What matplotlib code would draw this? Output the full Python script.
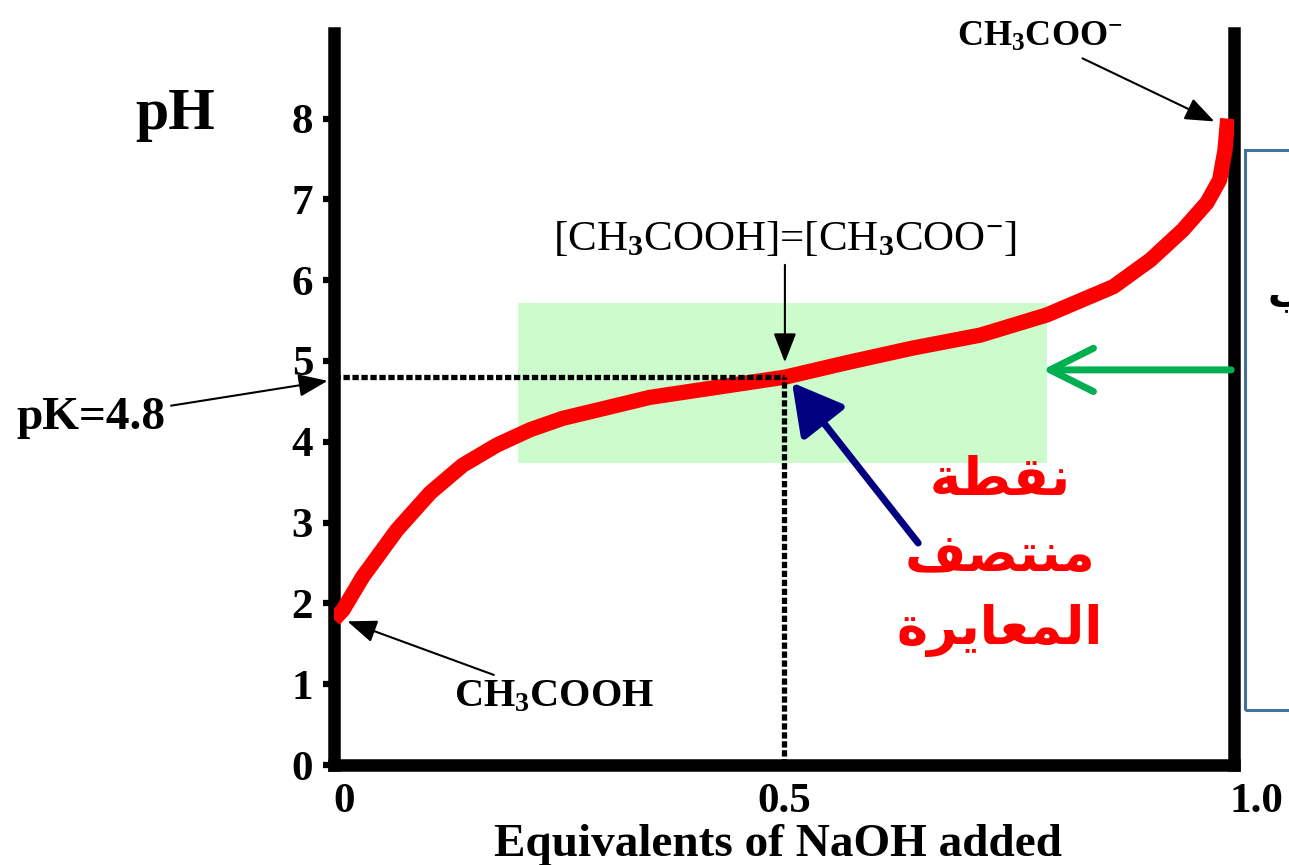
import matplotlib
matplotlib.use("Agg")
import matplotlib.pyplot as plt
from matplotlib.patches import Rectangle

plt.rcParams['font.family'] = ['Liberation Serif', 'DejaVu Sans']
plt.rcParams['font.weight'] = 'bold'
plt.rcParams['mathtext.fontset'] = 'custom'
plt.rcParams['mathtext.rm'] = 'Liberation Serif:bold'
plt.rcParams['mathtext.it'] = 'Liberation Serif:bold'
plt.rcParams['mathtext.bf'] = 'Liberation Serif:bold'

# titration curve
equiv = [0, 0.01, 0.032, 0.07, 0.107, 0.143, 0.181, 0.218, 0.254, 0.284, 0.351,
         0.429, 0.501, 0.57, 0.643, 0.718, 0.792, 0.866, 0.907, 0.943, 0.97,
         0.984, 0.99, 0.993]
ph = [1.8, 1.92, 2.33, 2.91, 3.37, 3.71, 3.96, 4.15, 4.29, 4.37, 4.55,
      4.68, 4.80, 4.98, 5.16, 5.32, 5.57, 5.92, 6.25, 6.62, 6.96,
      7.24, 7.61, 8.0]

ytick_vals = [0, 1, 2, 3, 4, 5, 6, 7, 8]
xtick_vals = [0, 0.5, 1.0]
xtick_labels = ['0', '0.5', '1.0']
pk = 4.8
half_point = 0.5
buffer_x = [0.204, 0.792]
buffer_y = [3.74, 5.72]

# arabic: "نقطة منتصف المعايرة" written in presentation forms, visual order
arabic_lines = ['\uFE94\uFEC4\uFED8\uFEE7',
                '\uFED2\uFEBC\uFE98\uFEE8\uFEE3',
                '\uFE93\uFEAE\uFEF3\uFE8E\uFECC\uFEE4\uFEDF\uFE8D']

fig = plt.figure(figsize=(12.89, 8.65), dpi=100)
ax = fig.add_axes([334/1289, 100/865, 900/1289, 732/865])
ax.set_xlim(0, 1)
ax.set_ylim(0, 732/80.8)

for s in ['left', 'right', 'bottom']:
    ax.spines[s].set_linewidth(9)
ax.spines['top'].set_visible(False)

ax.set_yticks(ytick_vals)
ax.set_yticklabels([str(v) for v in ytick_vals], fontsize=31, fontweight='bold')
ax.tick_params(axis='y', length=8, width=4.5, pad=7)
ax.set_xticks([])
for xv, lab, off in zip(xtick_vals, xtick_labels, [10, 0, 22]):
    ax.annotate(lab, (xv, 0), xytext=(off, -18), textcoords='offset pixels',
                ha='center', va='top', fontsize=31, fontweight='bold',
                annotation_clip=False)
ax.text(0.493, -0.125, 'Equivalents of NaOH added', transform=ax.transAxes,
        ha='center', va='baseline', fontsize=34, fontweight='bold')
ax.text(-0.177, 8.04, 'pH', ha='center', va='center', fontsize=43,
        fontweight='bold', clip_on=False)

# buffer region
ax.add_patch(Rectangle((buffer_x[0], buffer_y[0]), buffer_x[1] - buffer_x[0],
                       buffer_y[1] - buffer_y[0], color='#ccfccc', lw=0, zorder=1))

ax.plot(equiv, ph, color='red', lw=11, solid_capstyle='butt',
        solid_joinstyle='round', zorder=3)

dot = dict(color='black', lw=3.8, ls=(0, (1.2, 0.5)), dash_capstyle='butt', zorder=4)
ax.plot([0, half_point], [pk, pk], **dot)
ax.plot([half_point, half_point], [0, pk], **dot)

thin = dict(arrowstyle='-|>,head_length=0.9,head_width=0.35', color='black',
            lw=1.5, mutation_scale=20)
ax.annotate('pK=4.8', xy=(-0.004, 4.76), xytext=(-0.27, 4.29), ha='center',
            va='center', fontsize=34, fontweight='bold', arrowprops=thin,
            annotation_clip=False)
ax.annotate('CH$_3$COOH', xy=(0.012, 1.79), xytext=(0.245, 0.84), ha='center',
            va='center', fontsize=29, fontweight='bold', arrowprops=thin,
            annotation_clip=False)
ax.annotate('CH$_3$COO$^{-}$', xy=(0.981, 7.95), xytext=(0.784, 9.0),
            ha='center', va='center', fontsize=26, fontweight='bold',
            arrowprops=thin, annotation_clip=False)
ax.annotate('[CH$_3$COOH]=[CH$_3$COO$^{-}$]', xy=(0.501, 4.95),
            xytext=(0.501, 6.5), ha='center', va='center', fontsize=31,
            fontweight='normal', arrowprops=thin, annotation_clip=False)

ax.annotate('', xy=(0.784, 4.89), xytext=(1.0, 4.89),
            arrowprops=dict(arrowstyle='->,head_length=1.2,head_width=0.6',
                            color='#00b050', lw=5, mutation_scale=26),
            annotation_clip=False)
ax.annotate('', xy=(0.507, 4.76), xytext=(0.651, 2.72),
            arrowprops=dict(arrowstyle='-|>,head_length=0.9,head_width=0.5',
                            color='#000080', lw=5, mutation_scale=34),
            zorder=5)

for txt, yv in zip(arabic_lines, [3.53, 2.60, 1.67]):
    ax.text(0.74, yv, txt, ha='center', va='center', fontsize=38,
            color='red', family='DejaVu Sans', fontweight='bold')

fig.add_artist(Rectangle((1245/1289, 155/865), 60/1289, 560/865,
                         transform=fig.transFigure, fill=False,
                         edgecolor='#41719c', lw=2.2))
fig.text(1268/1289, (865-295)/865, '\uFE8F', family='DejaVu Sans',
         fontsize=28, ha='left', va='center', color='black')

fig.savefig('out.png', dpi=100)
